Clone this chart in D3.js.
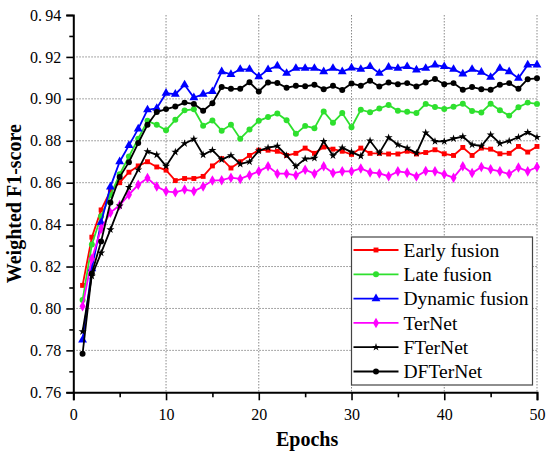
<!DOCTYPE html>
<html>
<head>
<meta charset="utf-8">
<script src="https://cdn.jsdelivr.net/npm/d3@7"></script>
<style>
body{margin:0;background:#fff;}
text{font-family:"Liberation Serif","Times New Roman",serif;}
</style>
</head>
<body>
<svg id="chart" width="547" height="451"></svg>
<script>
'use strict';

// epochs 1..50
var epochs=d3.range(1,51);

var earlyFusion=[0.811,0.834,0.847,0.856,0.860,0.865,0.868,0.870,0.8675,0.866,
    0.861,0.862,0.862,0.863,0.868,0.8715,0.867,0.870,0.873,0.8755,
    0.8755,0.875,0.873,0.874,0.8765,0.874,0.877,0.876,0.875,0.8735,
    0.8765,0.874,0.874,0.8737,0.8737,0.875,0.8737,0.8744,0.8757,0.8738,
    0.873,0.8768,0.873,0.8765,0.876,0.8738,0.874,0.8773,0.8746,0.8773];

var lateFusion=[0.804,0.8305,0.844,0.854,0.864,0.8725,0.881,0.8895,0.8876,0.885,
    0.890,0.8945,0.895,0.8872,0.8897,0.8848,0.8876,0.881,0.8854,0.8895,
    0.8913,0.893,0.8898,0.8833,0.8871,0.886,0.894,0.8886,0.8932,0.8865,
    0.8948,0.8936,0.8954,0.8971,0.8943,0.8938,0.8932,0.8976,0.8961,0.8952,
    0.8962,0.8977,0.8942,0.8935,0.8977,0.8946,0.892,0.896,0.8982,0.8976];

var dynamicFusion=[0.785,0.819,0.841,0.858,0.870,0.8778,0.8857,0.8948,0.8955,0.9027,
    0.9022,0.9067,0.9006,0.9022,0.9035,0.913,0.9117,0.9141,0.9141,0.9106,
    0.914,0.9157,0.9122,0.9146,0.9146,0.9146,0.913,0.9146,0.913,0.9148,
    0.9141,0.9154,0.9122,0.9151,0.9146,0.9154,0.9138,0.9146,0.9162,0.9154,
    0.9141,0.9119,0.9141,0.9127,0.9103,0.9146,0.913,0.9098,0.9162,0.9162];

var terNet=[0.801,0.8237,0.838,0.8457,0.8492,0.8543,0.859,0.8622,0.8582,0.8559,
    0.8554,0.8567,0.8559,0.8582,0.861,0.8612,0.8624,0.8618,0.8636,0.8654,
    0.8678,0.8643,0.8643,0.8635,0.8662,0.8643,0.8678,0.8646,0.8654,0.8654,
    0.8668,0.8649,0.8644,0.8631,0.8654,0.8648,0.863,0.8656,0.8654,0.864,
    0.8624,0.8678,0.8646,0.8675,0.8664,0.8654,0.8641,0.8672,0.8654,0.8675];

var fTerNet=[0.789,0.8155,0.8265,0.8376,0.849,0.8578,0.8662,0.8749,0.8733,0.8679,
    0.8746,0.8787,0.8808,0.8733,0.8755,0.871,0.873,0.8689,0.870,0.8752,
    0.8767,0.8775,0.873,0.8678,0.8714,0.8717,0.8797,0.8729,0.8767,0.8746,
    0.8727,0.880,0.8742,0.8815,0.8781,0.8765,0.8741,0.8838,0.8797,0.8797,
    0.881,0.882,0.8781,0.8775,0.8829,0.8787,0.8799,0.8817,0.884,0.8817];

var dfTerNet=[0.7784,0.8167,0.832,0.8505,0.8627,0.8698,0.8789,0.8876,0.8937,0.8951,
    0.8963,0.8982,0.8976,0.8943,0.8979,0.9056,0.9048,0.9048,0.9079,0.9035,
    0.9078,0.9076,0.9053,0.9062,0.906,0.9067,0.9046,0.9062,0.9042,0.9073,
    0.9062,0.9086,0.9059,0.9078,0.907,0.9075,0.9059,0.9078,0.9095,0.907,
    0.9075,0.9043,0.9056,0.9046,0.9043,0.9067,0.9075,0.9048,0.9094,0.9098];

var seriesNames=['Early fusion','Late fusion','Dynamic fusion','TerNet','FTerNet','DFTerNet'];
var seriesColors=['#ff0000','#2ee02e','#0000ff','#ff00ff','#000000','#000000'];

var xTicks=[0,10,20,30,40,50];
var yTicks=[0.76,0.78,0.80,0.82,0.84,0.86,0.88,0.90,0.92,0.94];

var series=[earlyFusion,lateFusion,dynamicFusion,terNet,fTerNet,dfTerNet];
var symbols=[
    {type:d3.symbolSquare,size:24},
    {type:d3.symbolCircle,size:28},
    {type:d3.symbolTriangle,size:34},
    {type:d3.symbolDiamond,size:32},
    {type:d3.symbolStar,size:20},
    {type:d3.symbolCircle,size:28}
];

var serif='"Liberation Serif","Times New Roman",serif';

var svg=d3.select('#chart')
  , pLeft=73.3, pRight=537, pTop=15, pBottom=392.3;

var x=d3.scaleLinear().domain([0,50]).range([pLeft,pRight]);
var y=d3.scaleLinear().domain([0.76,0.94]).range([pBottom,pTop]);

// grid
var grid=svg.append('g').attr('class','grid');
grid.selectAll('line.h')
    .data(yTicks.filter(function(d){return d>0.77&&d<0.93;}))
    .enter().append('line')
    .attr('x1',pLeft).attr('x2',pRight)
    .attr('y1',function(d){return y(d);})
    .attr('y2',function(d){return y(d);})
    .attr('stroke','#8a8a8a').attr('stroke-width',1)
    .attr('stroke-dasharray','1.5,1.5');
grid.selectAll('line.v')
    .data(xTicks.filter(function(d){return d>0;}))
    .enter().append('line')
    .attr('y1',pTop).attr('y2',pBottom)
    .attr('x1',function(d){return x(d);})
    .attr('x2',function(d){return x(d);})
    .attr('stroke','#8a8a8a').attr('stroke-width',1)
    .attr('stroke-dasharray','1.5,1.5');

// axes
var fmt=function(d){return d3.format('.2f')(d).replace('.','.\u2009');};

svg.append('g')
    .attr('transform','translate('+pLeft+',0)')
    .call(d3.axisLeft(y).tickValues(yTicks).tickFormat(fmt).tickSize(7).tickPadding(5));
svg.append('g')
    .attr('transform','translate('+pLeft+',0)')
    .call(d3.axisLeft(y).tickValues(d3.range(0.77,0.94,0.02)).tickFormat('').tickSize(4))
    .select('.domain').remove();

svg.append('g')
    .attr('transform','translate(0,'+pBottom+')')
    .call(d3.axisBottom(x).tickValues(xTicks).tickSize(8).tickPadding(8));
svg.append('g')
    .attr('transform','translate(0,'+pBottom+')')
    .call(d3.axisBottom(x).tickValues([5,15,25,35,45]).tickFormat('').tickSize(5))
    .select('.domain').remove();

svg.selectAll('.domain').attr('stroke','#000').attr('stroke-width',2);
svg.selectAll('.tick line').attr('stroke','#000').attr('stroke-width',1.6);
svg.selectAll('.tick text')
    .style('font-family',serif)
    .style('font-size','16px').attr('fill','#000');

// axis titles
svg.append('text')
    .attr('x',(pLeft+pRight)/2+2).attr('y',446)
    .attr('text-anchor','middle')
    .style('font-family',serif)
    .attr('font-size',20).attr('font-weight','bold')
    .text('Epochs');
svg.append('text')
    .attr('transform','translate(21,'+((pTop+pBottom)/2)+') rotate(-90)')
    .attr('text-anchor','middle')
    .style('font-family',serif)
    .attr('font-size',20).attr('font-weight','bold')
    .text('Weighted F1-score');

// lines and markers
var line=d3.line()
    .x(function(d,i){return x(epochs[i]);})
    .y(function(d){return y(d);});

series.forEach(function(vals,k){
    var g=svg.append('g').attr('class','series s'+k);
    g.append('path')
        .datum(vals)
        .attr('d',line)
        .attr('fill','none')
        .attr('stroke',seriesColors[k])
        .attr('stroke-width',1.8);
    g.selectAll('path.mk')
        .data(vals)
        .enter().append('path')
        .attr('class','mk')
        .attr('d',d3.symbol().type(symbols[k].type).size(symbols[k].size))
        .attr('transform',function(d,i){return 'translate('+x(epochs[i])+','+y(d)+')';})
        .attr('fill',seriesColors[k]);
});

// legend
var lg=svg.append('g').attr('transform','translate(351.5,237)');
lg.append('rect')
    .attr('width',181).attr('height',148)
    .attr('fill','#fff').attr('stroke','#444').attr('stroke-width',1.2);

var rows=lg.selectAll('g.row')
    .data(seriesNames)
    .enter().append('g')
    .attr('class','row')
    .attr('transform',function(d,i){return 'translate(0,'+(13+i*24.3)+')';});
rows.append('line')
    .attr('x1',2).attr('x2',47)
    .attr('stroke',function(d,i){return seriesColors[i];})
    .attr('stroke-width',1.8);
rows.append('path')
    .attr('d',function(d,i){return d3.symbol().type(symbols[i].type).size(symbols[i].size)();})
    .attr('transform','translate(24.5,0)')
    .attr('fill',function(d,i){return seriesColors[i];});
rows.append('text')
    .attr('x',52).attr('dy','0.35em')
    .style('font-family',serif)
    .attr('font-size',19.5)
    .text(function(d){return d;});
</script>
</body>
</html>
